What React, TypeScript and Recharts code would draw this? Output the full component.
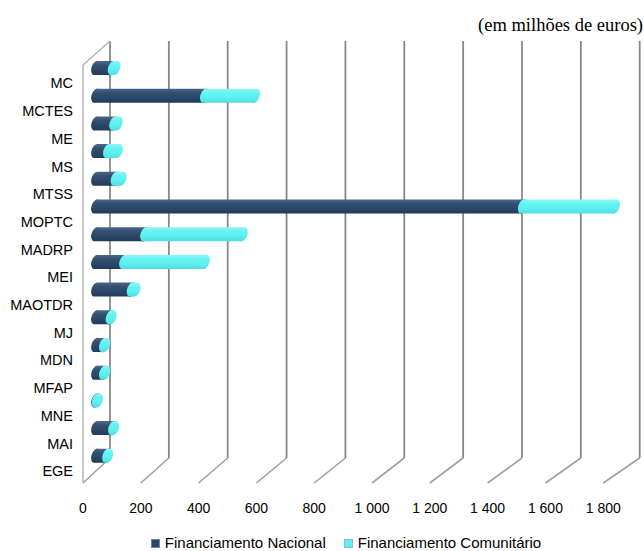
import { BarChart, Bar, XAxis, YAxis, CartesianGrid } from "recharts";

// values in milhões de euros
const categories = ["MC", "MCTES", "ME", "MS", "MTSS", "MOPTC", "MADRP", "MEI", "MAOTDR", "MJ", "MDN", "MFAP", "MNE", "MAI", "EGE"];
const nacional = [57, 373, 62, 41, 67, 1462, 168, 96, 122, 50, 27, 27, 2, 58, 38];
const comunitario = [10, 172, 13, 34, 21, 316, 335, 277, 14, 4, 5, 5, 5, 5, 4];
const xTicks = [0, 200, 400, 600, 800, 1000, 1200, 1400, 1600, 1800];
const seriesNames = ["Financiamento Nacional", "Financiamento Comunitário"];
const unitLabel = "(em milhões de euros)";

const data = categories.map((name, i) => ({ name, nacional: nacional[i], comunitario: comunitario[i] }));

const FONT = "'Liberation Sans', Arial, sans-serif";
const DARK = "#2c4869";
const CYAN = "#5ef0f0";

const fmt = (v: number) =>
    v >= 1000 ? `${Math.floor(v / 1000)} ${String(v % 1000).padStart(3, "0")}` : String(v);

// bars sit at mid depth; front and back planes are slightly narrower / wider
const PLOT_LEFT = 96;
const front = (x: number) => 83 + (x - PLOT_LEFT) * 0.99;
const back = (x: number) => 110 + (x - PLOT_LEFT) * 1.008;

const Cylinder = (props: any) => {
    const { x, y, width, height, fill } = props;
    if (x == null || width == null || height == null) return null;
    const h = height / 2;
    const yc = y + h;
    const s = 2.5;
    const x0 = x;
    const x1 = x + width;
    const a = Math.sqrt(s * s + h * h);
    const b = 4.5;
    const rot = (Math.atan2(-2 * h, 2 * s) * 180) / Math.PI;
    const d = `M${x0 + s},${yc - h} L${x1 + s},${yc - h} A${a},${b} ${rot} 0 1 ${x1 - s},${yc + h} L${x0 - s},${yc + h} A${a},${b} ${rot} 0 1 ${x0 + s},${yc - h} Z`;
    return <path d={d} fill={fill} />;
};

const GridLine = (props: any) => {
    const { x1, y1, y2, index } = props;
    const bx = back(x1);
    const fx = front(x1);
    const topBack = y1 - 13;
    const bottomBack = y2 - 11.5;
    const bottomFront = y2 + 13.5;
    return (
        <g key={`g-${index}-${x1}`}>
            <line x1={bx} y1={topBack} x2={bx} y2={bottomBack} stroke="#888" strokeWidth={1.8} />
            <line x1={fx} y1={bottomFront} x2={bx} y2={bottomBack} stroke="#a0a0a0" strokeWidth={1.6} />
            {index === 0 && (
                <>
                    <line x1={fx} y1={y1 + 11} x2={fx} y2={bottomFront} stroke="#b4b4b4" strokeWidth={1.5} />
                    <line x1={fx} y1={y1 + 11} x2={bx} y2={topBack} stroke="#b4b4b4" strokeWidth={1.5} />
                </>
            )}
        </g>
    );
};

const XTick = (props: any) => {
    const { x, y, payload } = props;
    return (
        <text x={front(x)} y={y + 38.5} dy="0.35em" textAnchor="middle" fill="#000" fontSize={14} fontFamily={FONT}>
            {fmt(payload.value)}
        </text>
    );
};

const YTick = (props: any) => {
    const { x, y, payload } = props;
    return (
        <text x={x - 23} y={y + 15.5} dy="0.35em" textAnchor="end" fill="#000" fontSize={14.5} fontFamily={FONT}>
            {payload.value}
        </text>
    );
};

export default function App() {
    return (
        <div style={{ position: "absolute", left: 0, top: 0, width: 644, height: 551, background: "#fff" }}>
            <div
                style={{
                    position: "absolute",
                    right: 1,
                    top: 15,
                    fontFamily: "'Liberation Serif', 'Times New Roman', serif",
                    fontSize: 18.5,
                    lineHeight: "20px",
                    color: "#000",
                }}
            >
                {unitLabel}
            </div>
            <BarChart
                width={644}
                height={551}
                data={data}
                layout="vertical"
                barSize={14}
                margin={{ top: 54, right: 22.5, left: 0, bottom: 51.5 }}
            >
                <defs>
                    <linearGradient id="gNat" x1="0" y1="0" x2="0" y2="1">
                        <stop offset="0" stopColor="#4d6a8b" />
                        <stop offset="0.3" stopColor="#34506f" />
                        <stop offset="0.6" stopColor={DARK} />
                        <stop offset="1" stopColor="#223a58" />
                    </linearGradient>
                    <linearGradient id="gCom" x1="0" y1="0" x2="0" y2="1">
                        <stop offset="0" stopColor="#8ef7f7" />
                        <stop offset="0.3" stopColor="#66f2f2" />
                        <stop offset="0.6" stopColor={CYAN} />
                        <stop offset="1" stopColor="#4fdfe3" />
                    </linearGradient>
                </defs>
                <CartesianGrid horizontal={false} vertical={GridLine} />
                <XAxis
                    type="number"
                    domain={[0, 1800]}
                    ticks={xTicks}
                    interval={0}
                    axisLine={false}
                    tickLine={false}
                    tickSize={0}
                    tickMargin={0}
                    height={30}
                    tick={XTick}
                />
                <YAxis
                    type="category"
                    dataKey="name"
                    width={96}
                    interval={0}
                    axisLine={false}
                    tickLine={false}
                    tickSize={0}
                    tickMargin={0}
                    tick={YTick}
                />
                <Bar dataKey="nacional" name={seriesNames[0]} stackId="a" fill="url(#gNat)" shape={Cylinder} isAnimationActive={false} />
                <Bar dataKey="comunitario" name={seriesNames[1]} stackId="a" fill="url(#gCom)" shape={Cylinder} isAnimationActive={false} />
            </BarChart>
            <div
                style={{
                    position: "absolute",
                    left: 0,
                    top: 534,
                    width: 644,
                    display: "flex",
                    justifyContent: "center",
                    fontFamily: FONT,
                    fontSize: 15,
                    lineHeight: "18px",
                    color: "#000",
                    paddingLeft: 48,
                    boxSizing: "border-box",
                }}
            >
                {seriesNames.map((n, i) => (
                    <div key={n} style={{ display: "flex", alignItems: "center", marginRight: i === 0 ? 18 : 0 }}>
                        <span
                            style={{
                                display: "inline-block",
                                width: 7,
                                height: 7,
                                marginRight: 5,
                                background: i === 0 ? DARK : CYAN,
                                border: `1px solid ${i === 0 ? "#6d86a3" : "#8fb8d8"}`,
                            }}
                        />
                        <span>{n}</span>
                    </div>
                ))}
            </div>
        </div>
    );
}
